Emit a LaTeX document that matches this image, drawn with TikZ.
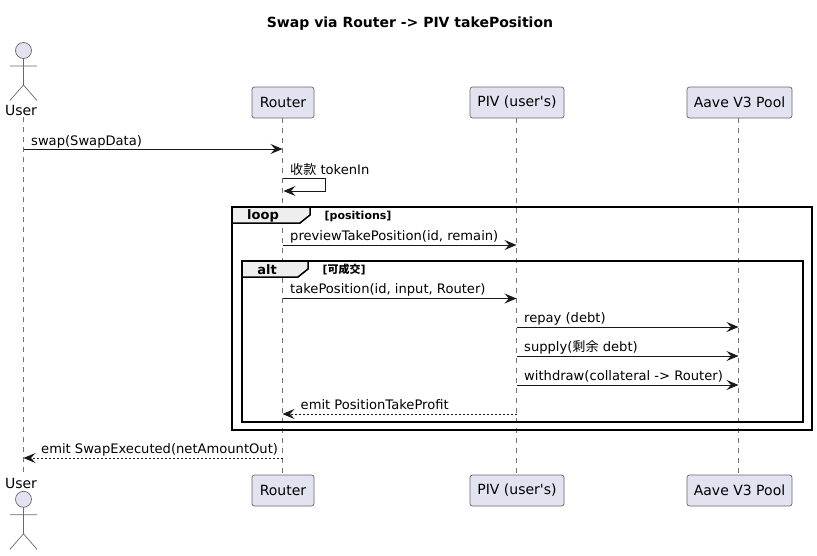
\documentclass[tikz,border=0pt]{standalone}
\usepackage{fontspec}
\setmainfont{DejaVu Sans}
\newfontfamily\cjk{Noto Sans CJK SC}
\usetikzlibrary{arrows.meta}
\definecolor{ink}{RGB}{24,24,24}
\definecolor{lilac}{RGB}{226,226,240}
\definecolor{tabgray}{RGB}{238,238,238}
\newcommand{\pxfont}[1]{\fontsize{#1}{#1}\selectfont}
\tikzset{
  >={Stealth[length=12pt,width=10pt,inset=4.5pt]},
  part/.style={draw=ink!65,line width=0.7pt,fill=lilac,rounded corners=2.5pt,minimum height=31pt,
    inner sep=0pt,font=\pxfont{14},text=black},
  lifeline/.style={draw=ink!60,line width=0.6pt,dash pattern=on 5pt off 5pt},
  limb/.style={draw=ink!65,line width=0.7pt},
  msg/.style={->,draw=ink,line width=0.9pt},
  reply/.style={->,draw=ink,line width=0.9pt,dash pattern=on 2pt off 2pt},
  txt/.style={anchor=base west,inner sep=0pt,font=\pxfont{13.1},text=black},
  framebox/.style={draw=black,line width=1.5pt,inner sep=0pt},
  tab/.style={draw=black,line width=1.5pt,fill=tabgray},
  tabname/.style={inner sep=0pt,font=\pxfont{13}\bfseries},
  guard/.style={anchor=base west,inner sep=0pt,font=\pxfont{11}\bfseries},
  % stick figure
  pics/stick/.style={code={
    \draw[limb,fill=lilac] (0,0) circle (8);
    \draw[limb] (0,8) -- (0,34.5) (-13.5,15.5) -- (13.5,15.5) (-13.5,50) -- (0,34.5) -- (13.5,50);
  }},
}
\begin{document}
\begin{tikzpicture}[x=1pt,y=-1pt]
  \useasboundingbox (0,0) rectangle (817,555);
  \node[font=\pxfont{14}\bfseries,inner sep=0pt] (title) at (410,24) {Swap via Router -> PIV takePosition};

  \node[part,minimum width=62pt] (router) at (283,102.5) {Router};
  \node[part,minimum width=94pt] (piv) at (517,102.5) {PIV (user\textquotesingle s)};
  \node[part,minimum width=105pt] (aave) at (739.5,102.5) {Aave V3 Pool};
  \node[part,minimum width=62pt] (routerb) at (283,490.5) {Router};
  \node[part,minimum width=94pt] (pivb) at (517,490.5) {PIV (user\textquotesingle s)};
  \node[part,minimum width=105pt] (aaveb) at (739.5,490.5) {Aave V3 Pool};
  \pic at (23.5,50.5) {stick};
  \pic at (23.5,499.3) {stick};
  \node[font=\pxfont{14},inner sep=0pt] (user) at (21,110) {User};
  \node[font=\pxfont{14},inner sep=0pt] (userb) at (21,483) {User};

  \draw[lifeline,shorten <=2pt,shorten >=2pt] (user.south -| 23.5,0) -- (userb.north -| 23.5,0);
  \draw[lifeline] (router.south -| 282.5,0) -- (routerb.north -| 282.5,0);
  \draw[lifeline] (piv.south -| 516.5,0) -- (pivb.north -| 516.5,0);
  \draw[lifeline] (aave.south -| 738.5,0) -- (aaveb.north -| 738.5,0);

  \foreach \m/\y in {swap/149,take/298.5,preview/245,repay/327,supply/356,withdraw/385,emit/414,done/458}
    \foreach \l/\x in {u/23.5,r/282.5,p/516.5,a/738.5}
      \coordinate (\l\m) at (\x,\y);
  \coordinate (selfa) at (282.5,178);
  \coordinate (selfb) at (325.5,178);
  \coordinate (selfc) at (325.5,191);
  \coordinate (selfd) at (283.5,191);

  % outer and inner frames
  \node[framebox,minimum width=580pt,minimum height=223pt] (loopbox) at (522,318.5) {};
  \draw[tab] (232,207) -- (310,207) -- (310,215) -- (300,223) -- (232,223) -- cycle;
  \node[tabname] (looptag) at (263,215.5) {loop};
  \node[guard] (loopguard) at (324.5,219) {[positions]};
  \node[framebox,minimum width=561pt,minimum height=161pt] (altbox) at (522.5,341.5) {};
  \draw[tab] (242,261) -- (308,261) -- (308,269) -- (298,277) -- (242,277) -- cycle;
  \node[tabname] (alttag) at (267,269.5) {alt};
  \node[guard] (altguard) at (322.5,273) {[{\cjk 可成交}]};

  \draw[msg] (uswap) -- (rswap);
  \node[txt] (swaplabel) at (31,145) {swap(SwapData)};
  \draw[msg] (selfa) -- (selfb) -- (selfc) -- (selfd);
  \node[txt] (selflabel) at (290,174) {{\cjk 收款} tokenIn};
  \draw[msg] (rpreview) -- (ppreview);
  \node[txt] (previewlabel) at (290,240) {previewTakePosition(id, remain)};
  \draw[msg] (rtake) -- (ptake);
  \node[txt] (takelabel) at (290,293) {takePosition(id, input, Router)};
  \draw[msg] (prepay) -- (arepay);
  \node[txt] (repaylabel) at (524,322) {repay (debt)};
  \draw[msg] (psupply) -- (asupply);
  \node[txt] (supplylabel) at (524,351) {supply({\cjk 剩余} debt)};
  \draw[msg] (pwithdraw) -- (awithdraw);
  \node[txt] (withdrawlabel) at (524,380) {withdraw(collateral -> Router)};
  \draw[reply] (pemit) -- (remit);
  \node[txt] (emitlabel) at (300.5,409) {emit PositionTakeProfit};
  \draw[reply] (rdone) -- (udone);
  \node[txt] (donelabel) at (41,453) {emit SwapExecuted(netAmountOut)};
\end{tikzpicture}
\end{document}
